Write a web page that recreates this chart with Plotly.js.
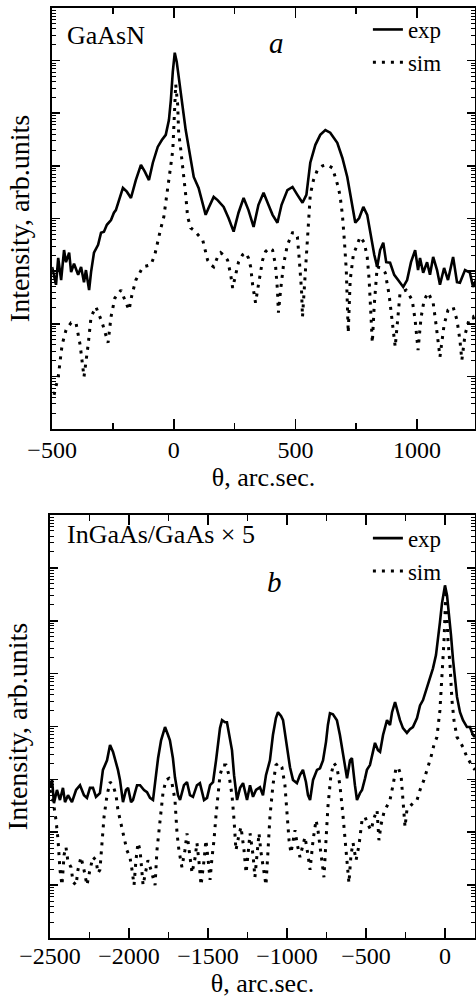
<!DOCTYPE html>
<html>
<head>
<meta charset="utf-8">
<script src="https://cdn.plot.ly/plotly-3.0.1.min.js"></script>
<style>html,body{margin:0;padding:0;background:#fff;}#chart{width:476px;height:998px;}</style>
</head>
<body>
<div id="chart"></div>
<script>
// Panel a: GaAsN — theta (arc.sec.) and log10(intensity, arb. units)
const thetaExpA = [-500,-484,-475,-463,-451,-443,-430,-422,-410,-393,-381,-369,-361,-348,-340,-328,-311,-299,-287,-275,-258,-246,-238,-225,-209,-193,-176,-156,-135,-119,-102,-86,-66,-49,-33,-20,-12,-4,4,12,20,29,37,49,66,82,102,119,131,143,164,180,205,225,246,266,287,307,328,348,369,389,406,426,443,467,488,508,529,545,561,582,602,623,643,672,693,713,730,746,762,779,795,807,824,836,848,861,873,889,906,922,943,959,975,992,1004,1012,1025,1041,1053,1066,1082,1094,1111,1127,1148,1164,1176,1197,1217,1230,1242];
const logExpA = [3.08,2.74,3.25,2.83,3.40,3.17,3.35,2.98,3.14,2.93,3.08,2.79,3.02,2.64,2.98,3.35,3.50,3.73,3.75,3.88,3.97,4.11,4.16,4.35,4.58,4.51,4.39,4.73,5.02,4.89,4.73,5.06,5.36,5.49,5.59,5.87,6.25,6.79,7.15,6.98,6.73,6.44,6.10,5.68,5.21,4.79,4.58,4.30,4.07,4.20,4.41,4.35,4.22,4.01,3.75,4.11,4.39,4.16,3.84,4.26,4.49,4.26,4.07,3.92,4.26,4.54,4.60,4.45,4.30,4.45,5.06,5.40,5.59,5.68,5.63,5.44,5.15,4.79,4.35,3.92,4.01,4.22,4.07,3.73,3.31,3.08,3.40,3.54,3.17,3.16,2.93,2.83,2.70,2.83,3.17,3.40,3.02,3.25,2.97,3.17,2.93,3.27,3.02,2.74,3.06,2.83,3.27,2.79,2.78,3.02,2.97,2.70,2.83];
const thetaSimA = [-492,-475,-459,-443,-422,-402,-385,-369,-352,-340,-320,-295,-270,-258,-242,-217,-201,-184,-172,-156,-127,-94,-78,-66,-53,-41,-29,-20,-12,-4,4,8,16,20,29,37,49,57,70,82,102,119,139,152,164,180,193,209,221,234,242,254,266,283,295,307,316,324,336,348,365,377,393,406,418,426,430,439,451,467,488,500,508,516,525,529,537,545,553,561,574,590,611,631,652,664,676,684,693,701,709,717,725,738,754,766,783,795,803,811,816,824,836,852,869,885,898,910,922,930,955,980,992,1004,1016,1029,1045,1066,1078,1094,1111,1127,1148,1164,1176,1184,1197,1213,1230,1242];
const logSimA = [0.65,0.99,1.60,1.88,2.02,2.02,1.60,0.99,1.60,2.13,2.32,2.03,1.64,2.13,2.49,2.64,2.45,2.26,2.55,2.83,3.08,3.12,3.31,3.59,3.82,4.03,4.41,4.73,5.02,5.30,6.06,6.55,6.16,5.63,5.30,4.98,4.45,4.03,3.82,3.78,3.67,3.59,3.21,3.12,3.08,3.27,3.35,3.29,3.21,2.93,2.68,2.93,3.17,3.31,3.35,3.25,3.08,2.74,2.40,2.74,3.21,3.37,3.44,3.40,3.12,2.64,2.21,2.64,3.12,3.50,3.73,3.73,3.65,3.21,2.64,2.13,2.74,3.40,3.94,4.45,4.73,4.92,5.00,5.02,4.96,4.79,4.60,4.41,4.07,3.59,3.02,1.83,2.83,3.31,3.50,3.65,3.54,3.27,2.83,2.07,1.64,2.36,3.08,3.06,2.97,2.55,2.07,1.56,2.17,2.59,2.64,2.45,2.07,1.50,2.11,2.45,2.59,2.40,1.98,1.37,1.98,2.26,2.32,2.07,1.69,1.31,1.79,2.07,2.13,1.98];

// Panel b: InGaAs/GaAs x 5
const thetaExpB = [-2500,-2487,-2475,-2456,-2437,-2418,-2405,-2386,-2361,-2335,-2310,-2285,-2266,-2247,-2228,-2209,-2184,-2165,-2139,-2120,-2101,-2089,-2070,-2057,-2038,-2019,-2006,-1987,-1975,-1949,-1930,-1905,-1886,-1867,-1848,-1829,-1816,-1797,-1772,-1753,-1741,-1722,-1709,-1690,-1677,-1652,-1633,-1614,-1595,-1570,-1551,-1525,-1506,-1487,-1468,-1449,-1437,-1424,-1411,-1392,-1380,-1361,-1348,-1335,-1316,-1297,-1278,-1253,-1234,-1215,-1196,-1171,-1152,-1133,-1108,-1089,-1070,-1057,-1038,-1025,-1006,-994,-981,-962,-937,-918,-899,-880,-867,-854,-835,-810,-791,-772,-753,-741,-728,-709,-684,-665,-646,-633,-620,-601,-589,-570,-557,-538,-525,-506,-494,-475,-456,-443,-424,-411,-392,-367,-348,-335,-316,-304,-285,-266,-241,-222,-203,-177,-158,-139,-114,-95,-76,-57,-44,-32,-19,-6,0,13,25,38,51,63,76,95,114,139,158,177,190];
const logExpB = [2.85,2.99,2.55,2.80,2.61,2.84,2.57,2.70,2.57,2.80,2.89,2.70,2.65,2.84,2.84,2.67,2.74,3.18,3.36,3.65,3.52,3.40,3.18,2.99,2.57,2.80,2.84,2.57,2.61,2.89,2.89,2.80,2.76,2.65,2.61,3.08,3.40,3.74,3.99,3.84,3.74,3.40,3.04,2.70,2.61,2.89,2.95,2.70,2.67,2.89,2.93,2.61,2.65,2.89,2.95,3.36,3.69,3.97,4.12,4.08,4.08,3.80,3.55,3.08,2.61,2.84,2.93,2.61,2.89,2.67,2.80,2.85,2.70,3.08,3.36,3.84,4.16,4.27,4.20,4.12,3.71,3.42,3.23,2.99,2.93,3.08,3.18,2.95,2.70,2.61,2.99,3.18,3.21,3.36,3.71,4.03,4.25,4.23,4.12,3.84,3.46,3.23,3.02,3.36,3.40,2.89,2.61,2.74,2.80,3.02,3.18,3.27,3.52,3.69,3.55,3.52,3.84,4.12,4.03,4.27,4.46,4.31,4.12,3.97,3.88,3.95,3.99,4.16,4.40,4.50,4.74,4.91,5.10,5.35,5.63,5.97,6.33,6.62,6.67,6.48,6.16,5.73,5.26,4.88,4.56,4.27,4.12,3.99,3.99,3.84,3.80];
const thetaSimB = [-2500,-2481,-2462,-2449,-2437,-2424,-2411,-2399,-2386,-2367,-2354,-2335,-2323,-2304,-2285,-2266,-2247,-2228,-2209,-2196,-2184,-2171,-2158,-2139,-2120,-2101,-2082,-2070,-2051,-2032,-2013,-1994,-1981,-1968,-1956,-1943,-1930,-1911,-1892,-1880,-1861,-1835,-1823,-1810,-1797,-1785,-1766,-1747,-1728,-1709,-1696,-1684,-1665,-1646,-1633,-1614,-1601,-1582,-1570,-1557,-1544,-1525,-1513,-1500,-1487,-1475,-1462,-1449,-1437,-1424,-1405,-1386,-1367,-1348,-1335,-1323,-1304,-1291,-1272,-1259,-1247,-1234,-1215,-1203,-1190,-1177,-1165,-1146,-1133,-1120,-1108,-1089,-1070,-1051,-1032,-1013,-1000,-987,-975,-962,-949,-937,-918,-899,-886,-867,-854,-835,-816,-804,-791,-778,-766,-753,-741,-722,-703,-684,-665,-646,-627,-608,-595,-582,-563,-544,-525,-506,-487,-468,-449,-430,-418,-405,-386,-367,-348,-329,-310,-297,-278,-266,-253,-241,-222,-203,-177,-158,-133,-108,-89,-70,-51,-32,-19,-6,6,19,32,44,57,76,95,114,139,158,177,190];
const logSimB = [2.80,2.61,2.23,1.85,1.29,1.00,1.57,1.72,1.44,1.34,1.06,1.00,1.29,1.53,1.29,1.00,1.29,1.53,1.47,1.23,1.29,1.85,2.29,2.70,2.95,2.89,2.70,2.42,2.14,1.91,1.66,1.53,1.29,1.00,1.47,1.80,1.66,1.00,1.29,1.47,1.29,1.00,1.66,2.04,2.42,2.74,2.99,3.02,2.93,2.61,1.98,1.66,1.34,1.66,1.98,1.57,1.23,1.51,1.80,1.44,1.00,1.47,1.85,1.51,1.10,1.51,1.85,2.33,2.74,3.08,3.27,3.27,3.08,2.70,2.23,1.66,1.95,2.10,1.66,1.23,1.57,1.98,1.57,1.15,1.57,1.98,1.63,1.23,1.00,1.66,2.29,2.89,3.27,3.31,3.23,2.89,2.42,1.85,1.61,1.85,2.04,1.80,1.53,1.76,1.91,1.57,1.29,1.85,2.23,2.04,1.76,1.38,1.15,1.85,2.48,3.08,3.31,3.23,2.89,2.33,1.66,1.04,1.57,1.80,1.47,1.76,2.23,2.29,2.14,2.04,2.27,2.42,1.85,2.14,2.38,2.51,2.61,2.89,3.21,3.23,3.08,2.61,2.10,2.42,2.48,2.55,2.61,2.80,2.99,3.23,3.42,3.65,3.80,4.31,4.88,5.63,6.58,5.63,5.16,4.50,4.12,3.80,3.71,3.61,3.42,3.31,3.23,3.18];

const toI = a => a.map(v => Math.pow(10, v));
const serif = 'Liberation Serif, Times New Roman, serif';
const expLine = {color: '#000', width: 2.6};
const simLine = {color: '#000', width: 3, dash: '3px,6px'};

const traces = [
  {x: thetaExpA, y: toI(logExpA), xaxis: 'x', yaxis: 'y', name: 'exp', mode: 'lines', line: expLine, legend: 'legend'},
  {x: thetaSimA, y: toI(logSimA), xaxis: 'x', yaxis: 'y', name: 'sim', mode: 'lines', line: simLine, legend: 'legend'},
  {x: thetaExpB, y: toI(logExpB), xaxis: 'x2', yaxis: 'y2', name: 'exp', mode: 'lines', line: expLine, legend: 'legend2'},
  {x: thetaSimB, y: toI(logSimB), xaxis: 'x2', yaxis: 'y2', name: 'sim', mode: 'lines', line: simLine, legend: 'legend2'}
];

const xCommon = {
  showline: true, linecolor: '#000', linewidth: 2.2, mirror: 'ticks',
  ticks: 'inside', ticklen: 10, tickwidth: 1.6, tickcolor: '#000',
  showgrid: false, zeroline: false, dtick: 500,
  minor: {ticks: 'inside', ticklen: 6, tickwidth: 1.6, tickcolor: '#000', dtick: 250, showgrid: false},
  tickfont: {family: serif, size: 24, color: '#000'},
  title: {text: 'θ, arc.sec.', font: {family: serif, size: 26, color: '#000'}, standoff: 0}
};
const yCommon = {
  type: 'log', range: [0, 8], dtick: 1,
  showline: true, linecolor: '#000', linewidth: 2.2, mirror: 'ticks',
  ticks: 'inside', ticklen: 8, tickwidth: 1.6, tickcolor: '#000',
  minor: {ticks: 'inside', ticklen: 4, tickwidth: 1, tickcolor: '#000', dtick: 'D1', showgrid: false},
  showgrid: false, zeroline: false, showticklabels: false,
  title: {text: 'Intensity, arb.units', font: {family: serif, size: 28, color: '#000'}, standoff: 12}
};

const layout = {
  width: 476, height: 998,
  margin: {l: 50, r: 1, t: 8, b: 60},
  paper_bgcolor: '#fff', plot_bgcolor: '#fff',
  showlegend: true,
  xaxis: Object.assign({}, xCommon, {domain: [0.005, 1], range: [-500, 1238], anchor: 'y', ticklabelstandoff: -2}),
  yaxis: Object.assign({}, yCommon, {domain: [0.5473, 1], anchor: 'x'}),
  xaxis2: Object.assign({}, xCommon, {domain: [0, 1], range: [-2500, 190], anchor: 'y2', ticklabelstandoff: -5}),
  yaxis2: Object.assign({}, yCommon, {domain: [0, 0.4548], anchor: 'x2'}),
  legend: {x: 0.748, y: 1.0, xanchor: 'left', yanchor: 'top', bgcolor: 'rgba(0,0,0,0)',
           font: {family: serif, size: 23, color: '#000'}, tracegroupgap: 0},
  legend2: {x: 0.748, y: 0.453, xanchor: 'left', yanchor: 'top', bgcolor: 'rgba(0,0,0,0)',
           font: {family: serif, size: 23, color: '#000'}, tracegroupgap: 0},
  annotations: [
    {text: 'GaAsN', xref: 'paper', yref: 'paper', x: 0.035, y: (938 - 35) / 930, xanchor: 'left', yanchor: 'middle',
     showarrow: false, font: {family: serif, size: 26, color: '#000'}},
    {text: '<i>a</i>', xref: 'paper', yref: 'paper', x: (276 - 50) / 425, y: (938 - 43) / 930, xanchor: 'center', yanchor: 'middle',
     showarrow: false, font: {family: serif, size: 29, color: '#000'}},
    {text: 'InGaAs/GaAs × 5', xref: 'paper', yref: 'paper', x: 0.035, y: (938 - 534) / 930, xanchor: 'left', yanchor: 'middle',
     showarrow: false, font: {family: serif, size: 26, color: '#000'}},
    {text: '<i>b</i>', xref: 'paper', yref: 'paper', x: (274 - 50) / 425, y: (938 - 582) / 930, xanchor: 'center', yanchor: 'middle',
     showarrow: false, font: {family: serif, size: 29, color: '#000'}}
  ]
};

Plotly.newPlot('chart', traces, layout, {displayModeBar: false, staticPlot: true});
</script>
</body>
</html>
